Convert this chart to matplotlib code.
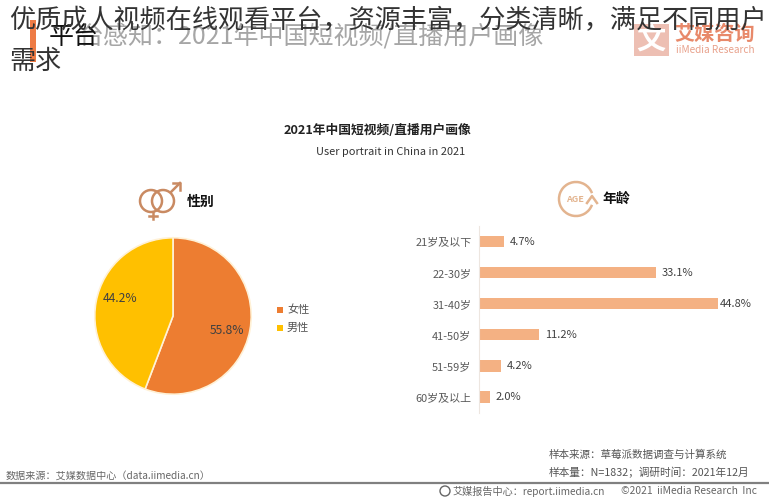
import matplotlib
matplotlib.use('Agg')
import matplotlib.pyplot as plt
from matplotlib.patches import Circle, Rectangle, Arc

plt.rcParams['font.family'] = ['Noto Sans CJK SC', 'DejaVu Sans']

W = 769
H = 500

#data
gender_labels = ['女性', '男性']
gender_values = [55.8, 44.2]
gender_colors = ['#ED7D31', '#FFC000']
age_labels = ['21岁及以下', '22-30岁', '31-40岁', '41-50岁', '51-59岁', '60岁及以上']
age_values = [4.7, 33.1, 44.8, 11.2, 4.2, 2.0]

fig = plt.figure(figsize=(W/100, H/100), dpi=100)

#overlay in pixel coordinates for the page furniture, on top of the chart axes
bg = fig.add_axes([0, 0, 1, 1])
bg.set_xlim(0, W)
bg.set_ylim(H, 0)
bg.axis('off')
bg.set_zorder(5)

#old slide header, under the big caption
bg.add_patch(Rectangle((30, 20), 6, 42, color='#EE7B45', lw=0))
bg.text(78, 37, '台感知：2021年中国短视频/直播用户画像', fontsize=18, color='#A6A6A6', va='center', weight='medium')
bg.text(49, 37, '平台', fontsize=18, color='#111111', va='center', weight='medium')

#logo
bg.add_patch(Rectangle((634, 24), 35, 32, color='#EDBFB3', lw=0))
bg.text(651, 40, '文', fontsize=21, color='white', ha='center', va='center', weight='bold')
bg.text(715, 33, '艾媒咨询', fontsize=14.5, color='#E8896A', ha='center', va='center', weight='bold')
bg.text(715, 50, 'iiMedia Research', fontsize=7.2, color='#E8A08A', ha='center', va='center')

#big caption
bg.text(9, 21, '优质成人视频在线观看平台，资源丰富，分类清晰，满足不同用户', fontsize=18.8, color='#333333', va='center')
bg.text(9, 61, '需求', fontsize=18.8, color='#333333', va='center')

#chart title
bg.text(377, 130, '2021年中国短视频/直播用户画像', fontsize=9.2, color='#222222', ha='center', va='center', weight='bold')
bg.text(391, 152, 'User portrait in China in 2021', fontsize=7.9, color='#333333', ha='center', va='center')

#gender icon
ic = '#C98A62'
bg.add_patch(Circle((151, 201), 11, fill=False, ec=ic, lw=1.8))
bg.add_patch(Circle((163, 201), 11, fill=False, ec=ic, lw=1.8))
bg.plot([171, 180], [192, 183], color=ic, lw=1.8)
bg.plot([173, 180, 180], [183, 183, 190], color=ic, lw=1.8)
bg.plot([153, 153], [212, 219], color=ic, lw=1.8)
bg.plot([149, 157], [216, 216], color=ic, lw=1.8)
bg.text(201, 202, '性别', fontsize=10, color='#111111', ha='center', va='center', weight='bold')

#age icon
bg.add_patch(Arc((576, 199), 34, 34, theta1=20, theta2=340, ec='#E3B48F', lw=1.8))
bg.plot([587, 592, 597], [203, 196, 203], color='#E3B48F', lw=1.8)
bg.text(575, 199, 'AGE', fontsize=6.5, color='#E3B48F', ha='center', va='center', weight='bold')
bg.text(616, 199, '年龄', fontsize=10, color='#111111', ha='center', va='center', weight='bold')

#pie
pie_ax = fig.add_axes([94/W, 1-395/H, 158/W, 158/H])
pie_ax.pie(gender_values, colors=gender_colors, startangle=90, counterclock=False, radius=1.0,
	wedgeprops={'edgecolor': '#FFF1D6', 'linewidth': 1.2})
pie_ax.set_xlim(-1.01, 1.01)
pie_ax.set_ylim(-1.01, 1.01)
bg.text(227, 331, '55.8%', fontsize=8.7, color='#404040', ha='center', va='center')
bg.text(120, 299, '44.2%', fontsize=8.7, color='#404040', ha='center', va='center')

#pie legend
for i in range(2):
	y = 310+18*i
	bg.add_patch(Rectangle((277, y-3), 6, 6, color=gender_colors[i], lw=0))
	bg.text(287, y, gender_labels[i], fontsize=8, color='#555555', va='center')

#age bars
ax = fig.add_axes([479/W, 1-412.6/H, 290/W, 186.6/H])
ax.barh(range(len(age_values)), age_values, height=0.36, color='#F4B183')
ax.set_xlim(0, 290/5.335)
ax.set_ylim(5.5, -0.5)
ax.set_yticks(range(len(age_labels)))
ax.set_yticklabels(age_labels, fontsize=7.9, color='#595959')
ax.tick_params(axis='y', length=0, pad=5.5)
ax.set_xticks([])
ax.patch.set_alpha(0)
for s in ['top', 'right', 'bottom']:
	ax.spines[s].set_visible(False)
ax.spines['left'].set_color('#EDE6E0')
for i in range(len(age_values)):
	ax.text(age_values[i]+1.1 if i != 2 else age_values[i]+0.4, i, '%.1f%%' % age_values[i], fontsize=8, color='#404040', va='center')

#footer
bg.plot([0, W], [482.6, 482.6], color='#808080', lw=1.6)
bg.text(6, 476, '数据来源：艾媒数据中心（data.iimedia.cn）', fontsize=7.25, color='#666666', va='center')
bg.text(549, 455, '样本来源：草莓派数据调查与计算系统', fontsize=7.6, color='#555555', va='center')
bg.text(549, 472, '样本量：N=1832；调研时间：2021年12月', fontsize=7.7, color='#555555', va='center')
bg.text(453, 491, '艾媒报告中心：report.iimedia.cn', fontsize=7.3, color='#666666', va='center')
bg.text(757, 491, '©2021  iiMedia Research  Inc', fontsize=7.4, color='#666666', va='center', ha='right')
bg.add_patch(Circle((445, 491), 5, fill=False, ec='#666666', lw=1.0))

fig.savefig('out.png', dpi=100)
